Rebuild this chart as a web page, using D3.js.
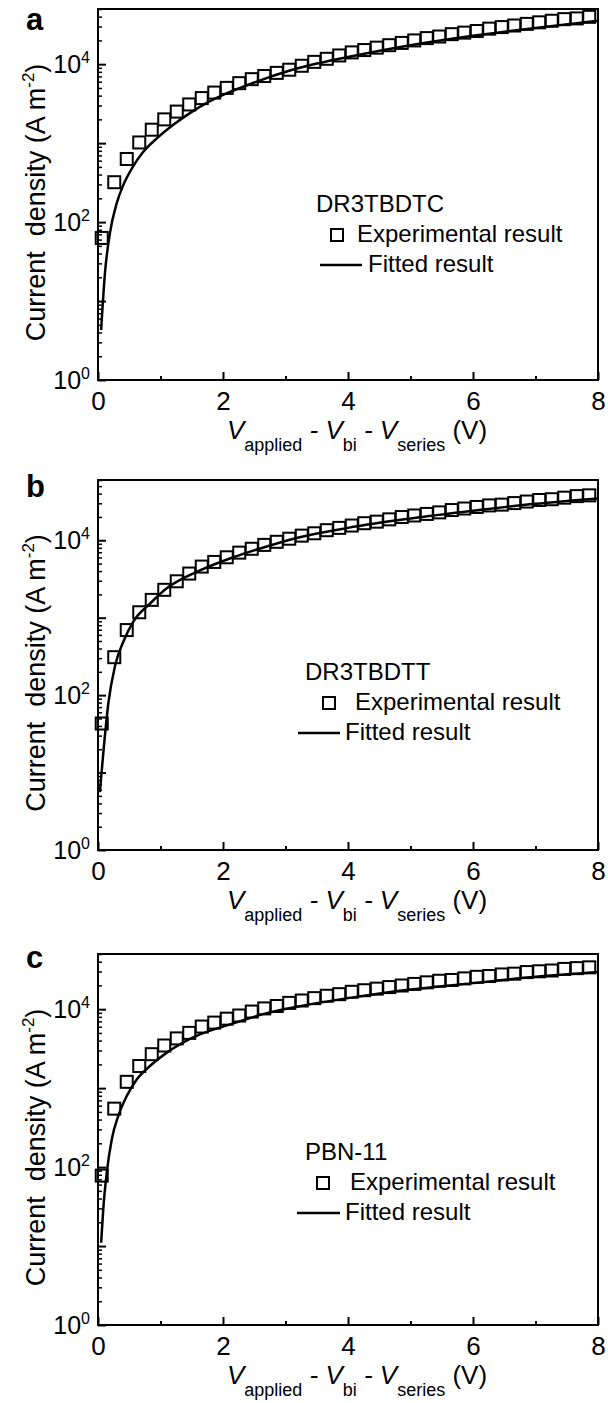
<!DOCTYPE html>
<html><head><meta charset="utf-8">
<script src="https://cdn.jsdelivr.net/npm/d3@7"></script>
<style>
body{margin:0;background:#fff}
svg{display:block}
text{font-family:"Liberation Sans",Arial,Helvetica,sans-serif;fill:#000}
</style>
</head><body>
<svg id="chart" width="608" height="1403"></svg>
<script>
// ---------- data ----------
const panelLetters = ["a", "b", "c"];
const materials = ["DR3TBDTC", "DR3TBDTT", "PBN-11"];
const legendLabels = ["Experimental result", "Fitted result"];
const xTicks = [0, 2, 4, 6, 8];
const xMinorTicks = [1, 3, 5, 7];
const yLabelExps = [0, 2, 4];
const yMax = [5e4, 6e4, 5e4];

const voltage = [0.06,0.26,0.46,0.66,0.86,1.06,1.26,1.46,1.66,1.86,2.06,2.26,2.46,2.66,2.86,3.06,3.26,3.46,3.66,3.86,
                 4.06,4.26,4.46,4.66,4.86,5.06,5.26,5.46,5.66,5.86,6.06,6.26,6.46,6.66,6.86,7.06,7.26,7.46,7.66,7.86];

const expA = [63,320,630,1020,1480,2000,2510,3090,3720,4370,5010,5750,6460,7080,7760,8510,9550,10700,11700,12900,
              14100,15100,16200,17400,18600,20000,21400,22400,24000,25100,26300,28200,29500,30900,32400,33900,35500,37200,38000,39800];
const expB = [43,309,692,1175,1698,2291,2951,3715,4571,5248,6026,6918,7762,8710,9550,10470,11480,12300,13490,14450,
              15490,16600,17380,18620,19950,20890,21880,22910,24550,25700,26920,28180,28840,30200,31620,33110,33880,35480,37150,38020];
const expC = [78,550,1202,1905,2692,3467,4266,5012,6026,6761,7586,8318,9333,10230,10970,12020,12880,13800,14790,15490,
              16600,17380,18200,19050,19950,20890,21880,22910,23440,24550,25700,26300,27540,28180,29510,30200,30900,32360,33110,33880];

const fitVA = [0.05,0.112,0.19,0.3,0.405,0.565,0.725,0.94,1.2,1.47,1.74,2.0,2.54,3.07,4,5,6,7,8];
const fitJA = [4.3,23,72,174,295,513,776,1148,1698,2399,3236,4074,6026,8318,12303,17378,22909,28840,35481];
const fitVB = [0.03,0.085,0.165,0.27,0.405,0.565,0.83,1.1,1.365,1.63,2.165,2.7,3.18,4,5,6,7,8];
const fitJB = [5.6,18,78,234,490,891,1514,2399,3236,4074,6026,8318,10715,14454,19055,23988,29512,34674];
const fitVC = [0.05,0.085,0.14,0.22,0.325,0.46,0.62,0.83,1.1,1.365,1.63,2.165,2.7,3.18,4,5,6,7,8];
const fitJC = [11,30,85,224,447,794,1288,1905,2818,3802,4786,6607,8913,10715,13804,17783,21380,25704,29512];

// ---------- layout ----------
const expData = [expA, expB, expC];
const fitV = [fitVA, fitVB, fitVC];
const fitJ = [fitJA, fitJB, fitJC];
const frames = [{top: 9, bottom: 380}, {top: 480, bottom: 850}, {top: 954, bottom: 1325}];
const letterBaseline = [30, 497, 968];
const legendPos = [
  {tx: 316, tb: 212, sq: 337, ex: 357, l1: 320, l2: 362, fx: 368},
  {tx: 305, tb: 680, sq: 329, ex: 355, l1: 298, l2: 340, fx: 345},
  {tx: 305, tb: 1160, sq: 323, ex: 350, l1: 297, l2: 340, fx: 345}
];
const left = 98, right = 598;
const svg = d3.select("#chart");

panelLetters.forEach((letter, i) => {
  const f = frames[i];
  const g = svg.append("g");
  const x = d3.scaleLinear().domain([0, 8]).range([left, right]);
  const y = d3.scaleLog().domain([1, yMax[i]]).range([f.bottom, f.top]);

  const clipId = "clip" + i;
  g.append("clipPath").attr("id", clipId).append("rect")
    .attr("x", left).attr("y", f.top).attr("width", right - left).attr("height", f.bottom - f.top);

  // x axis (inward ticks)
  const xAxis = g.append("g").attr("transform", `translate(0,${f.bottom})`)
    .call(d3.axisBottom(x).tickValues(xTicks).tickSizeInner(-8).tickSizeOuter(0).tickPadding(12));
  xAxis.select(".domain").remove();
  xAxis.selectAll("line").attr("stroke", "#000").attr("stroke-width", 2);
  xAxis.selectAll("text").attr("font-size", 26).attr("font-family", '"Liberation Sans",Arial,sans-serif').attr("fill", "#000");
  const xMinor = g.append("g").attr("transform", `translate(0,${f.bottom})`)
    .call(d3.axisBottom(x).tickValues(xMinorTicks).tickSizeInner(-4).tickSizeOuter(0).tickFormat(""));
  xMinor.select(".domain").remove();
  xMinor.selectAll("line").attr("stroke", "#000").attr("stroke-width", 2);

  // y axis
  const decades = [];
  for (let e = 0; Math.pow(10, e) <= yMax[i]; e++) decades.push(Math.pow(10, e));
  const minors = [];
  decades.forEach(d => { for (let m = 2; m <= 9; m++) if (d * m <= yMax[i]) minors.push(d * m); });
  const yMaj = g.append("g").attr("transform", `translate(${left},0)`)
    .call(d3.axisLeft(y).tickValues(decades).tickSizeInner(-8).tickSizeOuter(0).tickFormat(""));
  yMaj.select(".domain").remove();
  yMaj.selectAll("line").attr("stroke", "#000").attr("stroke-width", 2);
  const yMin = g.append("g").attr("transform", `translate(${left},0)`)
    .call(d3.axisLeft(y).tickValues(minors).tickSizeInner(-4).tickSizeOuter(0).tickFormat(""));
  yMin.select(".domain").remove();
  yMin.selectAll("line").attr("stroke", "#000").attr("stroke-width", 1.5);

  yLabelExps.forEach(e => {
    const t = g.append("text").attr("x", 90).attr("y", y(Math.pow(10, e)) + 9)
      .attr("text-anchor", "end").attr("font-size", 25);
    t.append("tspan").text("10");
    t.append("tspan").attr("font-size", 16).attr("dy", -10).text(e);
  });

  // frame
  g.append("rect").attr("x", left).attr("y", f.top).attr("width", right - left).attr("height", f.bottom - f.top)
    .attr("fill", "none").attr("stroke", "#000").attr("stroke-width", 2);

  // fitted line
  const pts = fitV[i].map((v, k) => [x(v), y(fitJ[i][k])]);
  g.append("path").attr("clip-path", `url(#${clipId})`)
    .attr("d", d3.line().curve(d3.curveMonotoneX)(pts))
    .attr("fill", "none").attr("stroke", "#000").attr("stroke-width", 2.5);

  // experimental squares
  g.append("g").selectAll("rect").data(voltage.map((v, k) => [v, expData[i][k]])).join("rect")
    .attr("x", d => x(d[0]) - 6).attr("y", d => y(d[1]) - 6)
    .attr("width", 12).attr("height", 12)
    .attr("fill", "none").attr("stroke", "#000").attr("stroke-width", 2);

  // panel letter
  g.append("text").attr("x", 26).attr("y", letterBaseline[i]).attr("font-size", 31)
    .attr("font-weight", "bold").text(letter);

  // y title
  const yt = g.append("text")
    .attr("transform", `translate(45,${(f.top + f.bottom) / 2 + 8}) rotate(-90)`)
    .attr("text-anchor", "middle").attr("font-size", 27).style("white-space", "pre");
  yt.append("tspan").text("Current  density (A m");
  yt.append("tspan").attr("font-size", 17).attr("dy", -11).text("-2");
  yt.append("tspan").attr("dy", 11).text(")");

  // x title
  const xt = g.append("text").attr("x", 357).attr("y", f.bottom + 59)
    .attr("text-anchor", "middle").attr("font-size", 26).style("white-space", "pre");
  const subs = ["applied", "bi", "series"];
  subs.forEach((s, k) => {
    xt.append("tspan").attr("font-style", "italic").attr("dy", k === 0 ? 0 : -12).text((k === 0 ? "" : " - ") + "V");
    xt.append("tspan").attr("font-size", 18).attr("dy", 12).text(s);
  });
  xt.append("tspan").attr("dy", -12).text(" (V)");

  // legend
  const L = legendPos[i];
  g.append("text").attr("x", L.tx).attr("y", L.tb).attr("font-size", 24).text(materials[i]);
  g.append("rect").attr("x", L.sq - 6).attr("y", L.tb + 30 - 7 - 6).attr("width", 12).attr("height", 12)
    .attr("fill", "none").attr("stroke", "#000").attr("stroke-width", 2);
  g.append("text").attr("x", L.ex).attr("y", L.tb + 30).attr("font-size", 24).text(legendLabels[0]);
  g.append("line").attr("x1", L.l1).attr("x2", L.l2).attr("y1", L.tb + 60 - 7).attr("y2", L.tb + 60 - 7)
    .attr("stroke", "#000").attr("stroke-width", 2.5);
  g.append("text").attr("x", L.fx).attr("y", L.tb + 60).attr("font-size", 24).text(legendLabels[1]);
});
</script>
</body></html>
